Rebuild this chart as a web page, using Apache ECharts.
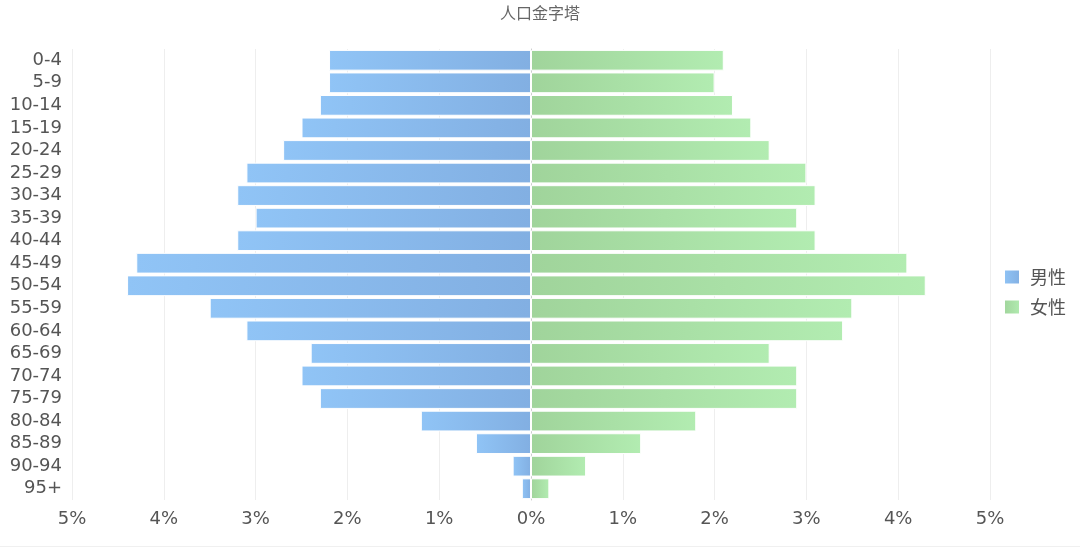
<!DOCTYPE html>
<html>
<head>
<meta charset="utf-8">
<script src="https://cdn.jsdelivr.net/npm/echarts@6/dist/echarts.min.js"></script>
<style>
  html, body { margin: 0; padding: 0; background: #fff; }
  #chart { width: 1080px; height: 550px; }
</style>
</head>
<body>
<div id="chart"></div>
<script>
// age groups, top to bottom
const ageGroups = ['0-4','5-9','10-14','15-19','20-24','25-29','30-34','35-39','40-44','45-49',
  '50-54','55-59','60-64','65-69','70-74','75-79','80-84','85-89','90-94','95+'];
// percent of population
const male = [2.2, 2.2, 2.3, 2.5, 2.7, 3.1, 3.2, 3.0, 3.2, 4.3, 4.4, 3.5, 3.1, 2.4, 2.5, 2.3, 1.2, 0.6, 0.2, 0.1];
const female = [2.1, 2.0, 2.2, 2.4, 2.6, 3.0, 3.1, 2.9, 3.1, 4.1, 4.3, 3.5, 3.4, 2.6, 2.9, 2.9, 1.8, 1.2, 0.6, 0.2];

const font = 'DejaVu Sans, Verdana, "Noto Sans CJK SC", sans-serif';
const cjk = '"Noto Sans CJK SC", sans-serif';

const chart = echarts.init(document.getElementById('chart'));

const option = {
  animation: false,
  title: {
    text: '人口金字塔',
    left: 'center',
    top: 0,
    textStyle: { fontSize: 16, fontWeight: 'normal', color: '#666', fontFamily: cjk }
  },
  legend: {
    orient: 'vertical',
    left: 998,
    top: 263,
    itemWidth: 16,
    itemHeight: 15,
    itemGap: 12,
    icon: 'rect',
    textStyle: { fontSize: 18, color: '#555', fontFamily: cjk, padding: [0, 0, 0, 5] },
    data: ['男性', '女性']
  },
  grid: { left: 72, right: 90, top: 49, bottom: 50 },
  xAxis: {
    type: 'value',
    min: -5,
    max: 5,
    interval: 1,
    axisLine: { show: false },
    axisTick: { show: false },
    splitLine: { lineStyle: { color: '#eee' } },
    axisLabel: {
      fontSize: 18,
      color: '#555',
      fontFamily: font,
      margin: 10,
      formatter: v => Math.abs(v) + '%'
    }
  },
  yAxis: {
    type: 'category',
    inverse: true,
    data: ageGroups,
    axisLine: { lineStyle: { color: '#ccc' } },
    axisTick: { length: 5, lineStyle: { color: '#ccc' } },
    axisLabel: { interval: 0, fontSize: 18, color: '#555', fontFamily: font, margin: 10 }
  },
  graphic: [{
    type: 'line',
    shape: { x1: 0, y1: 546.5, x2: 1080, y2: 546.5 },
    style: { stroke: '#f0f0f0', lineWidth: 1 },
    silent: true
  }],
  series: [
    {
      name: '男性',
      type: 'bar',
      stack: 'pop',
      barCategoryGap: '8%',
      data: male.map(v => -v),
      itemStyle: {
        borderColor: '#fff',
        borderWidth: 1,
        color: new echarts.graphic.LinearGradient(0, 0, 1, 0, [
          { offset: 0, color: '#90c4f6' },
          { offset: 1, color: '#82afe2' }
        ])
      }
    },
    {
      name: '女性',
      type: 'bar',
      stack: 'pop',
      data: female,
      itemStyle: {
        borderColor: '#fff',
        borderWidth: 1,
        color: new echarts.graphic.LinearGradient(0, 0, 1, 0, [
          { offset: 0, color: '#a0d49b' },
          { offset: 1, color: '#b2ecb1' }
        ])
      }
    }
  ]
};

chart.setOption(option);
</script>
</body>
</html>
